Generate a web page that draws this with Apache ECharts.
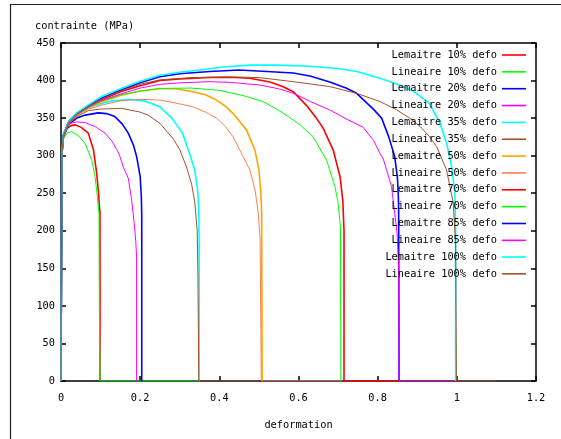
<!DOCTYPE html>
<html>
<head>
<meta charset="utf-8">
<script src="https://cdn.jsdelivr.net/npm/echarts@6/dist/echarts.min.js"></script>
<style>
html,body{margin:0;padding:0;background:#fff;}
#chart{width:561px;height:439px;}
</style>
</head>
<body>
<div id="chart"></div>
<script>
// ---- data (deformation, contrainte MPa) ----
const seriesNames = [
  "Lemaitre 10% defo", "Lineaire 10% defo",
  "Lemaitre 20% defo", "Lineaire 20% defo",
  "Lemaitre 35% defo", "Lineaire 35% defo",
  "Lemaitre 50% defo", "Lineaire 50% defo",
  "Lemaitre 70% defo", "Lineaire 70% defo",
  "Lemaitre 85% defo", "Lineaire 85% defo",
  "Lemaitre 100% defo", "Lineaire 100% defo"
];

const lemaitre10 = [[0,0],[0.002,300],[0.006,325],[0.015,336],[0.025,340],[0.035,341],[0.05,338],[0.069,330],[0.082,308],[0.09,277],[0.095,250],[0.097,232],[0.0985,225],[0.0985,0]];
const lineaire10 = [[0,0],[0.002,300],[0.006,322],[0.015,330],[0.027,332],[0.045,326],[0.061,316],[0.078,294],[0.086,272],[0.092,245],[0.096,222],[0.097,85],[0.099,0],[0.35,0]];
const lemaitre20 = [[0,0],[0.002,300],[0.006,326],[0.02,342],[0.04,350],[0.061,354],[0.094,357],[0.115,356],[0.136,352],[0.155,342],[0.17,330],[0.183,314],[0.191,299],[0.2,272],[0.203,245],[0.204,220],[0.204,0]];
const lineaire20 = [[0,0],[0.002,300],[0.006,326],[0.015,338],[0.023,343],[0.04,345],[0.061,344],[0.085,339],[0.111,330],[0.128,320],[0.141,308],[0.149,299],[0.157,285],[0.17,270],[0.178,243],[0.185,210],[0.189,185],[0.191,165],[0.191,0]];
const lemaitre35 = [[0,0],[0.002,300],[0.006,327],[0.02,344],[0.04,354],[0.07,364],[0.1,369],[0.13,373],[0.174,375],[0.21,373],[0.25,365],[0.28,350],[0.307,330],[0.326,301],[0.338,281],[0.345,255],[0.348,230],[0.349,180],[0.349,0]];
const lineaire35 = [[0,0],[0.002,300],[0.006,326],[0.02,343],[0.04,352],[0.069,360],[0.1,362],[0.153,363],[0.2,358],[0.22,354],[0.25,343],[0.284,322],[0.3,308],[0.317,285],[0.33,262],[0.338,238],[0.344,201],[0.346,137],[0.348,0],[0.5,0]];
const lemaitre50 = [[0,0],[0.002,300],[0.006,327],[0.02,345],[0.04,354],[0.07,364],[0.1,371],[0.15,380],[0.2,386],[0.25,389],[0.29,389],[0.334,385],[0.365,381],[0.393,374],[0.415,366],[0.435,356],[0.469,334],[0.49,307],[0.5,281],[0.505,250],[0.507,223],[0.508,0]];
const lineaire50 = [[0,0],[0.002,300],[0.006,327],[0.02,344],[0.04,354],[0.07,362],[0.1,367],[0.15,373],[0.2,375],[0.25,374],[0.29,370],[0.334,365],[0.365,358],[0.393,350],[0.415,339],[0.435,325],[0.46,299],[0.477,281],[0.49,255],[0.498,225],[0.503,190],[0.506,0],[0.71,0]];
const lemaitre70 = [[0,0],[0.002,300],[0.006,327],[0.02,345],[0.04,355],[0.07,366],[0.1,374],[0.15,385],[0.2,393],[0.25,400],[0.3,402],[0.376,404],[0.44,404],[0.477,403],[0.528,398],[0.56,392],[0.587,385],[0.62,367],[0.645,350],[0.662,337],[0.688,307],[0.705,272],[0.712,240],[0.715,200],[0.715,0],[0.855,0]];
const lineaire70 = [[0,0],[0.002,300],[0.006,327],[0.02,345],[0.04,354],[0.07,364],[0.1,372],[0.15,381],[0.2,386],[0.25,389.5],[0.33,390],[0.4,387],[0.46,380],[0.511,372],[0.545,362],[0.575,352],[0.604,341],[0.637,325],[0.671,294],[0.692,259],[0.7,237],[0.706,205],[0.707,0]];
const lemaitre85 = [[0,0],[0.002,300],[0.006,328],[0.02,346],[0.04,356],[0.07,367],[0.1,376],[0.15,387],[0.2,397],[0.25,405],[0.3,409],[0.376,412],[0.45,414],[0.52,412],[0.587,410],[0.629,406],[0.679,398],[0.72,390],[0.747,383],[0.789,362],[0.81,350],[0.828,325],[0.843,299],[0.85,270],[0.852,250],[0.853,228],[0.854,0]];
const lineaire85 = [[0,0],[0.002,300],[0.006,327],[0.02,345],[0.04,355],[0.07,365],[0.1,373],[0.15,382],[0.2,390],[0.25,395],[0.3,397],[0.376,398.5],[0.43,397.5],[0.503,394],[0.55,389],[0.587,383],[0.63,372],[0.679,361],[0.72,349],[0.763,338],[0.79,320],[0.806,303],[0.814,296],[0.835,259],[0.843,223],[0.849,197],[0.853,150],[0.854,0],[1.0,0]];
const lemaitre100 = [[0,0],[0.002,300],[0.006,328],[0.02,346],[0.04,357],[0.07,368],[0.1,378],[0.15,389],[0.2,399],[0.25,407],[0.3,411],[0.35,414],[0.41,418],[0.477,420.5],[0.55,420.5],[0.629,419],[0.7,416],[0.747,412],[0.806,403],[0.85,395],[0.89,386],[0.93,370],[0.957,344],[0.975,315],[0.987,285],[0.995,250],[0.997,200],[0.997,0]];
const lineaire100 = [[0,0],[0.002,300],[0.006,327],[0.02,345],[0.04,356],[0.07,366],[0.1,375],[0.15,386],[0.2,395],[0.25,401],[0.33,404],[0.418,405],[0.5,404],[0.587,398.5],[0.679,392],[0.747,383],[0.806,372],[0.848,361],[0.881,350],[0.907,339],[0.93,326],[0.949,312],[0.974,281],[0.991,237],[0.997,180],[0.999,0],[1.1,0]];

const seriesData = [lemaitre10, lineaire10, lemaitre20, lineaire20, lemaitre35, lineaire35,
  lemaitre50, lineaire50, lemaitre70, lineaire70, lemaitre85, lineaire85, lemaitre100, lineaire100];

const xTitle = "deformation";
const yTitle = "contrainte (MPa)";

// ---- styles ----
const colors = ["#ff0000","#00ff00","#0000ff","#ff00ff","#00ffff","#a0522d","#ffa500","#ff7f50",
  "#ff0000","#00ff00","#0000ff","#ff00ff","#00ffff","#a0522d"];
const FONT = "DejaVu Sans Mono";
const FS = 10.3;

const chart = echarts.init(document.getElementById('chart'), null, {renderer:'canvas'});

const axisCommon = {
  axisLine: {show: true, onZero: false, lineStyle: {color: '#000', width: 1.5}},
  axisTick: {show: true, inside: true, length: 5, lineStyle: {color: '#000', width: 1.5}},
  splitLine: {show: false}
};

const legendCommon = {
  orient: 'vertical', right: 35, align: 'right', icon: 'rect',
  itemWidth: 24, itemHeight: 1.6, itemGap: 4.85, padding: 0,
  textStyle: {fontFamily: FONT, fontSize: FS, color: '#000', lineHeight: 12}
};

const option = {
  animation: false,
  backgroundColor: '#fff',
  title: {
    text: yTitle, left: 35, top: 21, padding: 0,
    textStyle: {fontFamily: FONT, fontSize: FS, fontWeight: 'normal', color: '#000'}
  },
  grid: {left: 61, right: 25, top: 43, bottom: 58, containLabel: false},
  legend: [
    Object.assign({data: seriesNames.slice(0, 12), top: 49}, legendCommon),
    Object.assign({data: seriesNames.slice(12), top: 251}, legendCommon)
  ],
  xAxis: [
    Object.assign({type: 'value', min: 0, max: 1.2, interval: 0.2, position: 'bottom',
      name: xTitle, nameLocation: 'middle', nameGap: 39,
      nameTextStyle: {fontFamily: FONT, fontSize: FS, color: '#000'},
      axisLabel: {fontFamily: FONT, fontSize: FS, color: '#000', margin: 12}}, axisCommon),
    Object.assign({type: 'value', min: 0, max: 1.2, interval: 0.2, position: 'top',
      axisLabel: {show: false}}, axisCommon)
  ],
  yAxis: [
    Object.assign({type: 'value', min: 0, max: 450, interval: 50, position: 'left',
      axisLabel: {fontFamily: FONT, fontSize: FS, color: '#000', margin: 6}}, axisCommon),
    Object.assign({type: 'value', min: 0, max: 450, interval: 50, position: 'right',
      axisLabel: {show: false}}, axisCommon)
  ],
  graphic: [
    {type: 'rect', silent: true, z: 100,
     shape: {x: 10.5, y: 4.5, width: 700, height: 600},
     style: {fill: 'none', stroke: '#222', lineWidth: 1.2}}
  ],
  series: seriesNames.map((name, i) => ({
    name: name,
    type: 'line',
    data: seriesData[i],
    xAxisIndex: 0,
    yAxisIndex: 0,
    symbol: 'none',
    showSymbol: false,
    smooth: false,
    color: colors[i],
    itemStyle: {color: colors[i]},
    lineStyle: {color: colors[i], width: (i % 2 === 0) ? 1.6 : 1},
    z: 2
  }))
};

chart.setOption(option);
</script>
</body>
</html>
